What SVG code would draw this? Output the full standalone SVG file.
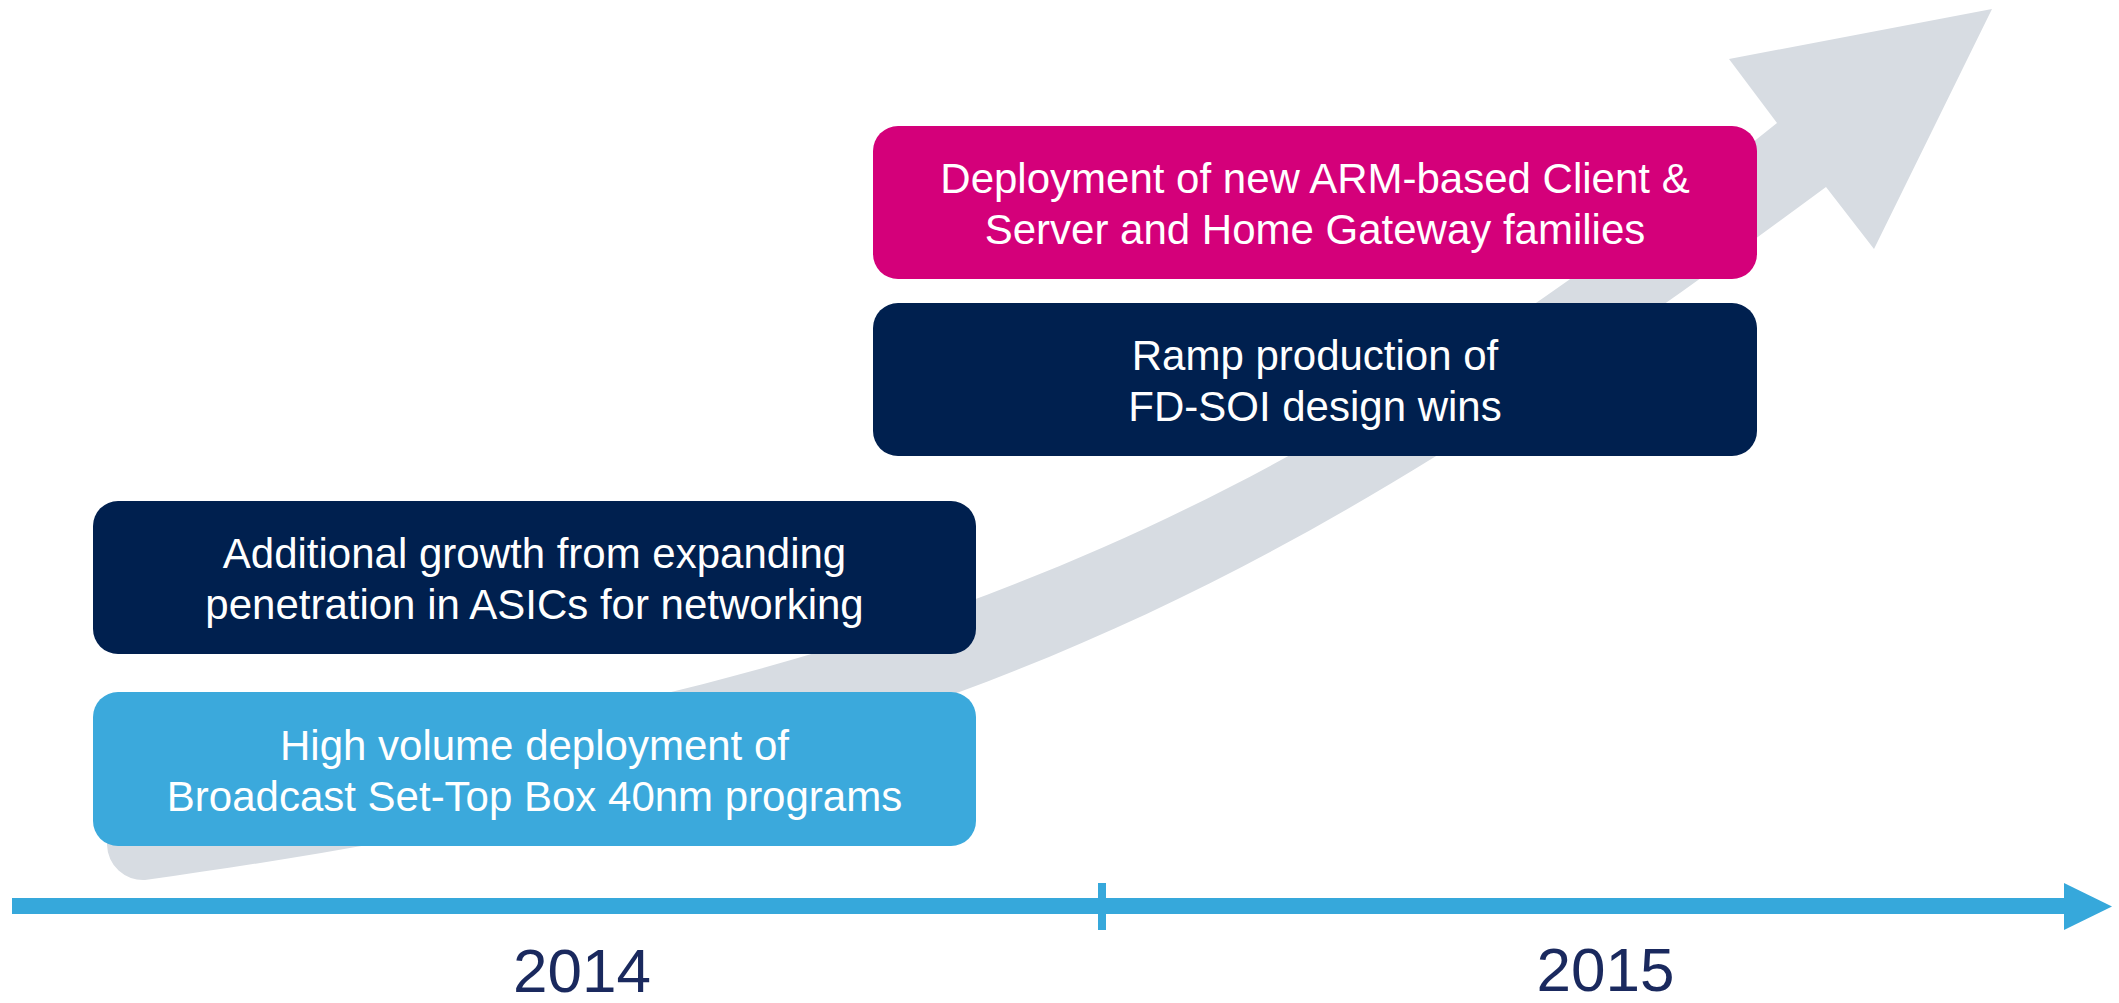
<svg xmlns="http://www.w3.org/2000/svg" width="2119" height="1003" viewBox="0 0 2119 1003">
  <style>
    .box-text { font-family: "Liberation Sans", Arial, sans-serif; font-size: 42px; fill: #FFFFFF; text-anchor: middle; }
    .year { font-family: "Liberation Sans", Arial, sans-serif; font-size: 62px; fill: #1A295E; text-anchor: middle; }
    .dark { fill: #00204F; }
    .blue { fill: #3BA9DC; }
    .pink { fill: #D4007A; }
    .axis { fill: #36A8DB; }
  </style>
  <rect x="0" y="0" width="2119" height="1003" fill="#FFFFFF"/>

  <g id="growth-arrow">
    <path fill="#D7DCE2" d="M107,790 C857,700 1257,539 1777,123 L1729,59 L1992,9 L1874,249 L1826,187 C1276,594 945,768 145,880 A36,36 0 0 1 107,845 Z"/>
  </g>

  <g id="connectors">
    <rect class="axis" x="12" y="898" width="2054" height="16"/>
    <rect class="axis" x="1098" y="883" width="8" height="47"/>
    <polygon class="axis" points="2064,883 2112,906.5 2064,930"/>
  </g>

  <g id="node-broadcast">
    <rect class="blue" x="93" y="692" width="883" height="154" rx="25" ry="25"/>
    <text class="box-text" x="534.5" y="760">High volume deployment of</text>
    <text class="box-text" x="534.5" y="811">Broadcast Set-Top Box 40nm programs</text>
  </g>

  <g id="node-asics">
    <rect class="dark" x="93" y="501" width="883" height="153" rx="25" ry="25"/>
    <text class="box-text" x="534.5" y="568">Additional growth from expanding</text>
    <text class="box-text" x="534.5" y="619">penetration in ASICs for networking</text>
  </g>

  <g id="node-fdsoi">
    <rect class="dark" x="873" y="303" width="884" height="153" rx="25" ry="25"/>
    <text class="box-text" x="1315" y="370">Ramp production of</text>
    <text class="box-text" x="1315" y="421">FD-SOI design wins</text>
  </g>

  <g id="node-arm">
    <rect class="pink" x="873" y="126" width="884" height="153" rx="25" ry="25"/>
    <text class="box-text" x="1315" y="192.5">Deployment of new ARM-based Client &amp;</text>
    <text class="box-text" x="1315" y="244">Server and Home Gateway families</text>
  </g>

  <g id="year-2014">
    <text class="year" x="582" y="992">2014</text>
  </g>
  <g id="year-2015">
    <text class="year" x="1605.5" y="991">2015</text>
  </g>
</svg>
